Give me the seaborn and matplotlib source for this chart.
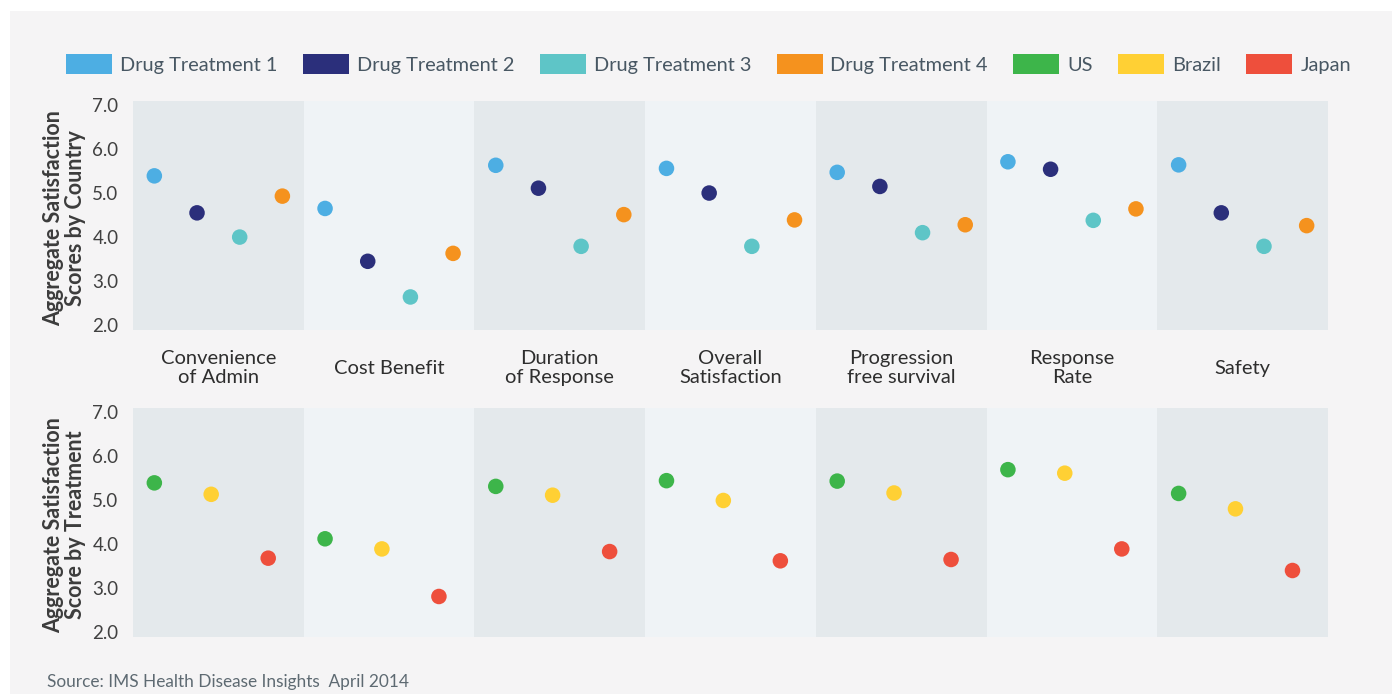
import matplotlib
matplotlib.use("Agg")

import pandas as pd
import seaborn as sns
import matplotlib.pyplot as plt
from matplotlib.patches import Patch, Rectangle
from matplotlib import transforms

# ---- data ----
categories = ["Convenience\nof Admin", "Cost Benefit", "Duration\nof Response",
              "Overall\nSatisfaction", "Progression\nfree survival",
              "Response\nRate", "Safety"]

treatments = ["Drug Treatment 1", "Drug Treatment 2", "Drug Treatment 3", "Drug Treatment 4"]
drug1 = [5.38, 4.64, 5.62, 5.55, 5.46, 5.70, 5.63]
drug2 = [4.54, 3.44, 5.10, 4.99, 5.14, 5.53, 4.54]
drug3 = [3.99, 2.63, 3.78, 3.78, 4.09, 4.37, 3.78]
drug4 = [4.92, 3.62, 4.50, 4.38, 4.27, 4.63, 4.25]

countries = ["US", "Brazil", "Japan"]
us = [5.38, 4.11, 5.30, 5.43, 5.42, 5.68, 5.14]
brazil = [5.12, 3.88, 5.10, 4.98, 5.15, 5.60, 4.79]
japan = [3.67, 2.80, 3.82, 3.61, 3.64, 3.88, 3.39]

y_ticks = [2.0, 3.0, 4.0, 5.0, 6.0, 7.0]

# ---- style ----
treat_colors = ["#4daee3", "#2b2f7b", "#5ec5c7", "#f5921e"]
country_colors = ["#3db54a", "#ffd034", "#ee4f3c"]
band_colors = ["#e4e9ec", "#eff3f6"]
panel_color = "#f5f4f5"
# slot of each group inside a category band (fraction of the band)
treat_slots = [0.125, 0.375, 0.625, 0.875]
country_slots = [0.125, 0.458, 0.792]


def long_frame(groups, series, slots):
    rows = []
    for g, vals, slot in zip(groups, series, slots):
        for i, v in enumerate(vals):
            rows.append((i, i - 0.5 + slot, g, v))
    return pd.DataFrame(rows, columns=["cat", "xpos", "group", "score"])


def draw_panel(ax, df, order, palette, ylabel):
    for i in range(len(categories)):
        ax.axvspan(i - 0.5, i + 0.5, color=band_colors[i % 2], lw=0, zorder=0)
    sns.scatterplot(data=df, x="xpos", y="score", hue="group", hue_order=order,
                    palette=palette, s=125, linewidth=0, legend=False, ax=ax, zorder=3)
    ax.set_xlim(-0.5, len(categories) - 0.5)
    ax.set_ylim(1.88, 7.08)
    ax.set_yticks(y_ticks)
    ax.set_yticklabels([f"{v:.1f}" for v in y_ticks])
    ax.tick_params(axis="y", length=0, pad=10.5, labelsize=13.5, labelcolor="#404040")
    ax.set_xticks([])
    ax.set_xlabel("")
    ax.set_ylabel(ylabel, fontsize=15.5, fontweight="bold", color="#3c3c3c", linespacing=1.05)
    ax.yaxis.label.set_va("center")
    ax.yaxis.set_label_coords(-0.057, 0.49)
    ax.set_facecolor("none")
    sns.despine(ax=ax, left=True, bottom=True)


def main():
    sns.set_theme(style="white")
    plt.rcParams["font.family"] = ["Lato", "DejaVu Sans"]

    W, H = 1392, 694
    fig = plt.figure(figsize=(W / 100, H / 100), dpi=100, facecolor="white")
    fig.add_artist(Rectangle((10 / W, 0), 1, 1 - 11 / H, transform=fig.transFigure,
                             facecolor=panel_color, edgecolor="none", zorder=-10))

    left, width = 133 / W, (1328 - 133) / W
    ax_top = fig.add_axes([left, 1 - 330 / H, width, 229 / H])
    ax_bot = fig.add_axes([left, 1 - 637 / H, width, 229 / H])

    top_df = long_frame(treatments, [drug1, drug2, drug3, drug4], treat_slots)
    bot_df = long_frame(countries, [us, brazil, japan], country_slots)

    draw_panel(ax_top, top_df, treatments, treat_colors,
               "Aggregate Satisfaction\nScores by Country")
    draw_panel(ax_bot, bot_df, countries, country_colors,
               "Aggregate Satisfaction\nScore by Treatment")

    # category names between the two panels
    trans = transforms.blended_transform_factory(ax_top.transData, ax_top.transAxes)
    for i, name in enumerate(categories):
        ax_top.text(i, -0.166, name, transform=trans, ha="center", va="center",
                    fontsize=14.5, color="#2e2e2e", linespacing=1.1)

    handles = [Patch(facecolor=c, edgecolor="none", label=l)
               for l, c in zip(treatments + countries, treat_colors + country_colors)]
    fig.legend(handles=handles, ncol=7, loc="center", bbox_to_anchor=(708.5 / W, 1 - 64 / H),
               frameon=False, fontsize=14.4, handlelength=2.3, handleheight=1.15,
               handletextpad=0.4, columnspacing=1.27, labelcolor="#485763")

    fig.text(47 / W, 1 - 682 / H, "Source: IMS Health Disease Insights  April 2014",
             ha="left", va="center", fontsize=12.4, color="#5e6a72")

    fig.savefig("out.png", dpi=100, facecolor="white")


if __name__ == "__main__":
    main()
